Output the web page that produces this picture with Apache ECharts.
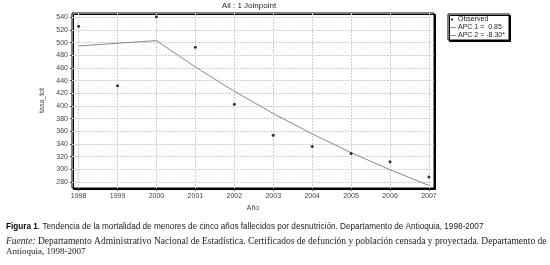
<!DOCTYPE html>
<html>
<head>
<meta charset="utf-8">
<script src="https://cdn.jsdelivr.net/npm/echarts@6/dist/echarts.min.js"></script>
<style>
  html, body { margin: 0; padding: 0; background: #fff; }
  #chart { width: 550px; height: 265px; }
</style>
</head>
<body>
<div id="chart"></div>
<script>
// years and observed rate (tasa_tot)
const years = [1998, 1999, 2000, 2001, 2002, 2003, 2004, 2005, 2006, 2007];
const observed = [526, 432, 541, 493, 403, 354, 336, 325, 312, 288];
// joinpoint fitted segments
const apc1Years = [1998, 1999, 2000];
const apc1Fit = [495, 499.2, 503.4];
const apc2Years = [2000, 2001, 2002, 2003, 2004, 2005, 2006, 2007];
const apc2Fit = [503.4, 461.6, 423.3, 388.2, 356.0, 326.4, 299.3, 274.5];
const yTicks = [280, 300, 320, 340, 360, 380, 400, 420, 440, 460, 480, 500, 520, 540];
const legendNames = ['Observed', 'APC 1 =  0.85', 'APC 2 = -8.30*'];

const chart = echarts.init(document.getElementById('chart'));

const zip = (xs, ys) => xs.map((x, i) => [x, ys[i]]);

const option = {
    animation: false,
    backgroundColor: '#fff',
    textStyle: { fontFamily: 'Liberation Sans, Arial, sans-serif' },
    title: {
        text: 'All : 1 Joinpoint',
        left: 244,
        top: -3,
        textAlign: 'center',
        textStyle: { fontSize: 8, fontWeight: 'normal', color: '#222' }
    },
    grid: {
        left: 72, top: 13, right: 116, bottom: 77,
        show: true,
        backgroundColor: '#fff',
        borderColor: '#000',
        borderWidth: 1,
        shadowColor: '#000',
        shadowOffsetX: 1.5,
        shadowOffsetY: 1.5,
        shadowBlur: 0
    },
    xAxis: {
        type: 'value',
        min: 1997.83,
        max: 2007.13,
        name: 'Año',
        nameLocation: 'middle',
        nameGap: 17,
        nameTextStyle: { fontSize: 7, color: '#444' },
        axisLine: { show: false },
        axisTick: { show: true, length: 3, customValues: years, lineStyle: { color: '#444' } },
        axisLabel: { fontSize: 7, color: '#444', margin: 5, customValues: years, formatter: v => String(v) },
        splitLine: { show: true, lineStyle: { color: '#cfcfcf', width: 1, type: [2, 1] } }
    },
    yAxis: {
        type: 'value',
        min: 270.5,
        max: 547,
        name: 'tasa_tot',
        nameLocation: 'middle',
        nameRotate: 90,
        nameGap: 18,
        nameTextStyle: { fontSize: 7, color: '#444' },
        axisLine: { show: false },
        axisTick: { show: true, length: 2, customValues: yTicks, lineStyle: { color: '#444' } },
        axisLabel: { fontSize: 7, color: '#444', margin: 4, customValues: yTicks },
        splitLine: { show: true, lineStyle: { color: '#cfcfcf', width: 1, type: [2, 1] } }
    },
    series: [
        {
            name: legendNames[1],
            type: 'line',
            data: zip(apc1Years, apc1Fit),
            symbol: 'none',
            lineStyle: { color: '#888', width: 1 },
            z: 3
        },
        {
            name: legendNames[2],
            type: 'line',
            data: zip(apc2Years, apc2Fit),
            symbol: 'none',
            lineStyle: { color: '#888', width: 1 },
            z: 3
        },
        {
            name: legendNames[0],
            type: 'scatter',
            data: zip(years, observed),
            symbol: 'circle',
            symbolSize: 3,
            itemStyle: { color: '#000' },
            z: 4
        }
    ],
    graphic: [
        // legend box
        {
            type: 'rect',
            shape: { x: 448, y: 14, width: 61, height: 26 },
            style: { fill: '#fff', stroke: '#000', lineWidth: 1, shadowColor: '#000', shadowOffsetX: 1.5, shadowOffsetY: 1.5 }
        },
        { type: 'circle', shape: { cx: 452, cy: 19.5, r: 1 }, style: { fill: '#000' } },
        { type: 'text', x: 458, y: 19.5, style: { text: legendNames[0], fontSize: 7, fill: '#222', fontFamily: 'Liberation Sans', verticalAlign: 'middle' } },
        { type: 'line', shape: { x1: 450, y1: 27.5, x2: 456, y2: 27.5 }, style: { stroke: '#888', lineWidth: 1 } },
        { type: 'text', x: 458, y: 27.5, style: { text: legendNames[1], fontSize: 7, fill: '#222', fontFamily: 'Liberation Sans', verticalAlign: 'middle' } },
        { type: 'line', shape: { x1: 450, y1: 35.5, x2: 456, y2: 35.5 }, style: { stroke: '#888', lineWidth: 1 } },
        { type: 'text', x: 458, y: 35.5, style: { text: legendNames[2], fontSize: 7, fill: '#222', fontFamily: 'Liberation Sans', verticalAlign: 'middle' } },
        // caption
        {
            type: 'text', x: 6, y: 227,
            style: {
                text: '{b|Figura 1}. Tendencia de la mortalidad de menores de cinco años fallecidos por desnutrición. Departamento de Antioquia, 1998-2007',
                fontSize: 8.2, fill: '#222', fontFamily: 'Liberation Sans', verticalAlign: 'middle',
                rich: { b: { fontWeight: 'bold', fontSize: 8.2, fill: '#000', fontFamily: 'Liberation Sans' } }
            }
        },
        {
            type: 'text', x: 6, y: 241,
            style: {
                text: '{i|Fuente:} Departamento Administrativo Nacional de Estadística. Certificados de defunción y población censada y proyectada. Departamento de',
                fontSize: 9.5, fill: '#222', fontFamily: 'Liberation Serif', verticalAlign: 'middle',
                rich: { i: { fontStyle: 'italic', fontSize: 9.5, fill: '#222', fontFamily: 'Liberation Serif' } }
            }
        },
        {
            type: 'text', x: 6, y: 252,
            style: { text: 'Antioquia, 1998-2007', fontSize: 9, fill: '#222', fontFamily: 'Liberation Serif', verticalAlign: 'middle' }
        }
    ]
};

chart.setOption(option);
</script>
</body>
</html>
